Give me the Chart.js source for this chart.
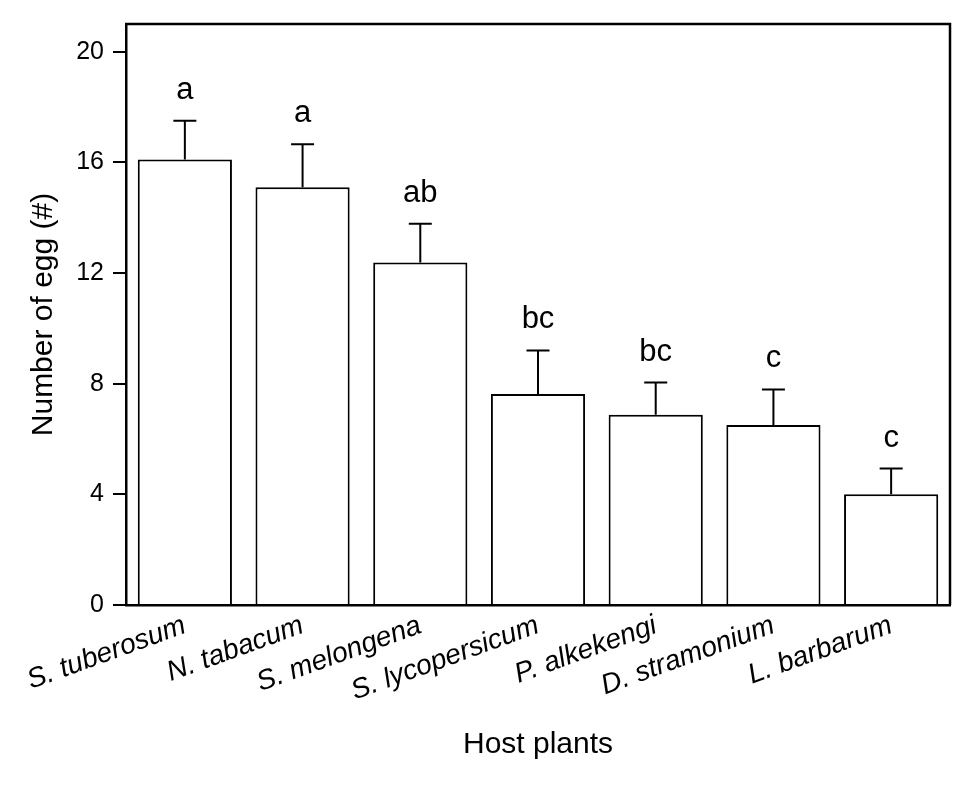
<!DOCTYPE html>
<html>
<head>
<meta charset="utf-8">
<script src="https://cdn.jsdelivr.net/npm/chart.js@4/dist/chart.umd.min.js"></script>
<style>
  html, body { margin: 0; padding: 0; background: #fff; }
  #wrap { width: 974px; height: 785px; }
</style>
</head>
<body>
<div id="wrap"><canvas id="eggChart"></canvas></div>
<script>
const hostPlants = ['S. tuberosum', 'N. tabacum', 'S. melongena', 'S. lycopersicum', 'P. alkekengi', 'D. stramonium', 'L. barbarum'];
const eggMeans = [16.1, 15.1, 12.38, 7.63, 6.88, 6.51, 4.0];
const eggSE = [1.4, 1.55, 1.4, 1.57, 1.16, 1.28, 0.93];
const sigLetters = ['a', 'a', 'ab', 'bc', 'bc', 'c', 'c'];
const yTicks = [0, 4, 8, 12, 16, 20];

const FONT = "'Liberation Sans', Arial, sans-serif";

// frame on top and right, error bars and letters above bars
const extrasPlugin = {
  id: 'extras',
  afterDatasetsDraw(chart) {
    const ctx = chart.ctx;
    const area = chart.chartArea;
    const y = chart.scales.y;
    const meta = chart.getDatasetMeta(0);
    ctx.save();
    ctx.strokeStyle = '#000';
    ctx.lineWidth = 2;
    meta.data.forEach((bar, i) => {
      const top = y.getPixelForValue(eggMeans[i]);
      const errTop = y.getPixelForValue(eggMeans[i] + eggSE[i]);
      ctx.beginPath();
      ctx.moveTo(bar.x, top);
      ctx.lineTo(bar.x, errTop);
      ctx.moveTo(bar.x - 11.5, errTop);
      ctx.lineTo(bar.x + 11.5, errTop);
      ctx.stroke();
      ctx.fillStyle = '#000';
      ctx.font = '31px ' + FONT;
      ctx.textAlign = 'center';
      ctx.textBaseline = 'alphabetic';
      ctx.fillText(sigLetters[i], bar.x, errTop - 22);
    });
    ctx.lineWidth = 2.5;
    ctx.beginPath();
    ctx.moveTo(area.left - 1, area.top);
    ctx.lineTo(area.right, area.top);
    ctx.lineTo(area.right, area.bottom);
    ctx.stroke();
    ctx.restore();
  }
};

new Chart(document.getElementById('eggChart'), {
  type: 'bar',
  data: {
    labels: hostPlants,
    datasets: [{
      data: eggMeans,
      backgroundColor: '#fff',
      borderColor: '#000',
      borderWidth: 2,
      borderSkipped: 'bottom',
      barPercentage: 0.8,
      categoryPercentage: 1.0
    }]
  },
  options: {
    responsive: true,
    maintainAspectRatio: false,
    animation: false,
    layout: { padding: { top: 22, right: 24, left: 0, bottom: 0 } },
    plugins: {
      legend: { display: false },
      tooltip: { enabled: false }
    },
    scales: {
      x: {
        grid: { display: false, drawTicks: false },
        border: { display: true, color: '#000', width: 2.5 },
        ticks: {
          color: '#000',
          font: { family: FONT, size: 28, style: 'italic' },
          minRotation: 20,
          maxRotation: 20,
          padding: 4
        },
        title: {
          display: true,
          text: 'Host plants',
          color: '#000',
          font: { family: FONT, size: 30 },
          padding: { top: 0, bottom: 22 }
        },
        afterFit: scale => { scale.height = 180; }
      },
      y: {
        min: 0,
        max: 21,
        grid: { drawOnChartArea: false, drawTicks: true, tickLength: 13, color: '#000', lineWidth: 2 },
        border: { display: true, color: '#000', width: 2.5 },
        ticks: {
          color: '#000',
          font: { family: FONT, size: 25 },
          padding: 9
        },
        afterBuildTicks: scale => { scale.ticks = yTicks.map(v => ({ value: v })); },
        title: {
          display: true,
          text: 'Number of egg (#)',
          color: '#000',
          font: { family: FONT, size: 30 },
          padding: { top: 26, bottom: 0 }
        },
        afterFit: scale => { scale.width = 126; }
      }
    }
  },
  plugins: [extrasPlugin]
});
</script>
</body>
</html>
